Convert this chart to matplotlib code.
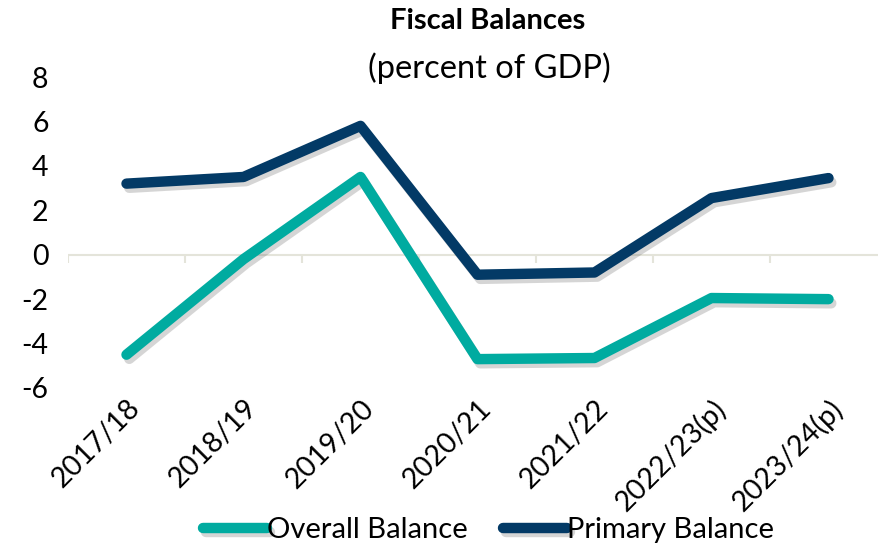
import matplotlib
matplotlib.use("Agg")
import matplotlib.pyplot as plt
import matplotlib.patheffects as pe
import numpy as np

plt.rcParams['font.family'] = ['Lato', 'DejaVu Sans']
plt.rcParams['axes.unicode_minus'] = False

years = ['2017/18', '2018/19', '2019/20', '2020/21', '2021/22', '2022/23(p)', '2023/24(p)']
overall = [-4.5, -0.2, 3.5, -4.7, -4.65, -1.95, -2.0]
primary = [3.2, 3.5, 5.8, -0.9, -0.8, 2.55, 3.45]

teal = '#00ABA0'
navy = '#033A66'

fig = plt.figure(figsize=(8.79, 5.48), dpi=100)
ax = fig.add_axes([68 / 879, 1 - 388 / 548, 819 / 879, 311 / 548])

x = np.arange(len(years))
shadow = [pe.SimpleLineShadow(offset=(2, -3), shadow_color='#444444', alpha=0.22), pe.Normal()]
ax.plot(x, overall, color=teal, lw=7.5, solid_capstyle='round', solid_joinstyle='round',
        label='Overall Balance', path_effects=shadow, zorder=3)
ax.plot(x, primary, color=navy, lw=7.5, solid_capstyle='round', solid_joinstyle='round',
        label='Primary Balance', path_effects=shadow, zorder=3)

# zero line with small tick marks between categories
ax.axhline(0, color='#E4E4DA', lw=1.5, zorder=1)
bounds = np.arange(len(years) + 1) - 0.5
ax.vlines(bounds, -0.38, 0, color='#E4E4DA', lw=1.5, zorder=1)

ax.set_xlim(-0.5, len(years) - 0.5)
ax.set_ylim(-6, 8)
ax.set_yticks(np.arange(-6, 9, 2))
ax.set_xticks(x)
ax.set_xticklabels(years, rotation=45, ha='right', rotation_mode='anchor')
ax.tick_params(axis='both', length=0, labelsize=20.5)
ax.tick_params(axis='y', pad=14)
ax.tick_params(axis='x', pad=5)
for s in ax.spines.values():
    s.set_visible(False)

fig.text(0.555, 0.962, 'Fiscal Balances', ha='center', va='center', fontsize=21, fontweight='bold')
fig.text(0.557, 0.876, '(percent of GDP)', ha='center', va='center', fontsize=23.5)

leg = fig.legend(loc='center', bbox_to_anchor=(0.556, 0.033), ncol=2, frameon=False,
                 fontsize=21, handlelength=2.2, handletextpad=0.0, columnspacing=1.2)

fig.savefig('out.png', dpi=100)
